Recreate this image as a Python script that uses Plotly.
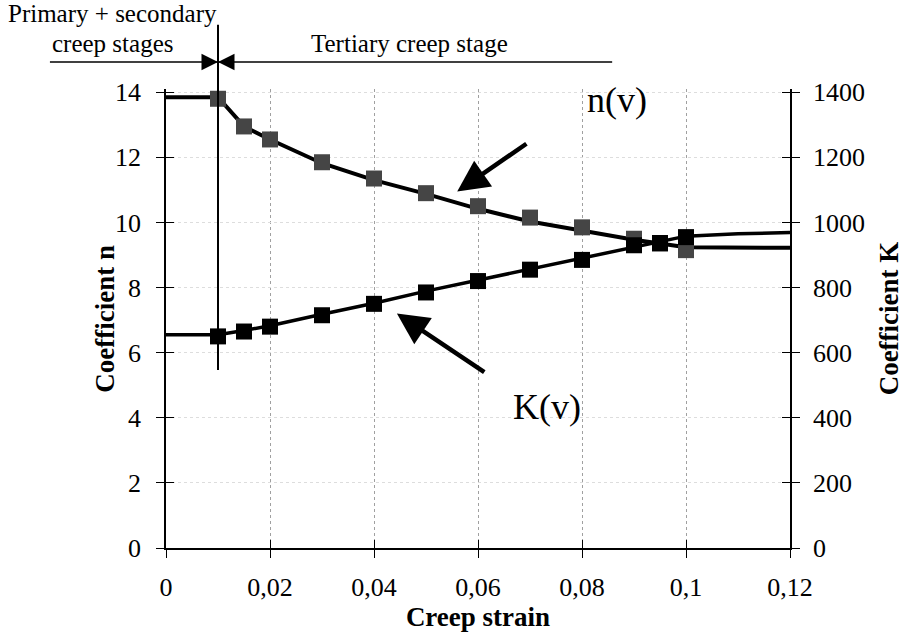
import plotly.graph_objects as go

# ---- data ----
strain_pts = [0.01, 0.015, 0.02, 0.03, 0.04, 0.05, 0.06, 0.07, 0.08, 0.09, 0.095, 0.1]
n_pts = [13.8, 12.95, 12.55, 11.85, 11.35, 10.9, 10.5, 10.15, 9.85, 9.5, 9.35, 9.15]
K_pts = [650, 665, 680, 715, 750, 785, 820, 855, 885, 930, 937, 955]

strain_fit = [0, 0.01, 0.015, 0.02, 0.03, 0.04, 0.05, 0.06, 0.07, 0.08, 0.09, 0.1, 0.11, 0.12]
n_fit = [13.85, 13.85, 12.95, 12.55, 11.82, 11.3, 10.88, 10.42, 10.03, 9.74, 9.47, 9.24, 9.22, 9.22]
K_fit = [655, 655, 668, 683, 718, 752, 789, 823, 857, 890, 925, 958, 965, 969]

x_ticks = [0, 0.02, 0.04, 0.06, 0.08, 0.1, 0.12]
x_ticktext = ["0", "0,02", "0,04", "0,06", "0,08", "0,1", "0,12"]
n_ticks = [0, 2, 4, 6, 8, 10, 12, 14]
K_ticks = [0, 200, 400, 600, 800, 1000, 1200, 1400]

stage_boundary = 0.01
x_range = [0, 0.12]
n_range = [0, 14.1]
K_range = [0, 1410]

FONT = "Liberation Serif"

fig = go.Figure()
fig.add_trace(go.Scatter(x=strain_fit, y=n_fit, mode="lines",
                         line=dict(color="black", width=4), showlegend=False, hoverinfo="skip"))
fig.add_trace(go.Scatter(x=strain_fit, y=K_fit, mode="lines", yaxis="y2",
                         line=dict(color="black", width=3.5), showlegend=False, hoverinfo="skip"))
fig.add_trace(go.Scatter(x=strain_pts, y=n_pts, mode="markers",
                         marker=dict(symbol="square", size=16, color="#454545"), showlegend=False))
fig.add_trace(go.Scatter(x=strain_pts, y=K_pts, mode="markers", yaxis="y2",
                         marker=dict(symbol="square", size=16, color="black"), showlegend=False))
# empty traces that carry the overlay axes used for crossing tick marks
fig.add_trace(go.Scatter(x=[], y=[], xaxis="x2", yaxis="y", showlegend=False, hoverinfo="skip"))
fig.add_trace(go.Scatter(x=[], y=[], xaxis="x", yaxis="y3", showlegend=False, hoverinfo="skip"))
fig.add_trace(go.Scatter(x=[], y=[], xaxis="x", yaxis="y4", showlegend=False, hoverinfo="skip"))

tickfont = dict(family=FONT, size=26, color="black")
titlefont = dict(family=FONT, size=27, color="black", weight="bold")

fig.update_layout(
    width=904, height=641,
    margin=dict(l=166, r=114, t=89, b=93),
    paper_bgcolor="white", plot_bgcolor="white",
    font=dict(family=FONT, color="black"),
    xaxis=dict(range=x_range, tickvals=x_ticks, ticktext=x_ticktext, tickfont=tickfont,
               showline=True, linecolor="black", linewidth=1.5,
               ticks="outside", ticklen=8, tickcolor="black", tickwidth=1.2,
               ticklabelstandoff=7,
               showgrid=True, gridcolor="#a0a0a0", griddash="dot", gridwidth=1,
               zeroline=False, automargin=False,
               title=dict(text="Creep strain", font=titlefont, standoff=6)),
    xaxis2=dict(overlaying="x", anchor="y", range=x_range, tickvals=x_ticks,
                ticks="inside", ticklen=8, tickcolor="black", tickwidth=1.2,
                showticklabels=False, showline=False, showgrid=False, zeroline=False),
    yaxis=dict(range=n_range, tickvals=n_ticks, tickfont=tickfont,
               showline=True, linecolor="black", linewidth=1.5,
               ticks="outside", ticklen=8, tickcolor="black", tickwidth=1.2,
               ticklabelstandoff=10,
               showgrid=True, gridcolor="#dddddd", griddash="dot", gridwidth=1,
               zeroline=False, automargin=False),
    yaxis2=dict(overlaying="y", side="right", anchor="x", range=K_range, tickvals=K_ticks,
                tickfont=tickfont, showline=True, linecolor="black", linewidth=1.5,
                ticks="outside", ticklen=8, tickcolor="black", tickwidth=1.2,
                ticklabelstandoff=8,
                showgrid=False, zeroline=False, automargin=False,
                title=dict(text="Coefficient K", font=titlefont, standoff=16)),
    yaxis3=dict(overlaying="y", side="left", anchor="x", range=n_range, tickvals=n_ticks,
                ticks="inside", ticklen=8, tickcolor="black", tickwidth=1.2,
                showticklabels=False, showline=False, showgrid=False, zeroline=False),
    yaxis4=dict(overlaying="y", side="right", anchor="x", range=K_range, tickvals=K_ticks,
                ticks="inside", ticklen=8, tickcolor="black", tickwidth=1.2,
                showticklabels=False, showline=False, showgrid=False, zeroline=False),
)

# left axis title as rotated text
fig.add_annotation(xref="paper", yref="paper", x=-0.099, y=0.5, text="Coefficient n",
                   textangle=-90, xanchor="center", yanchor="middle", showarrow=False,
                   font=titlefont)

# stage boundary and stage markers
fig.add_shape(type="line", xref="x", yref="paper", x0=stage_boundary, x1=stage_boundary,
              y0=0.388, y1=1.14, line=dict(color="black", width=2))
fig.add_shape(type="line", xref="paper", yref="paper", x0=-0.186, x1=0.715,
              y0=1.059, y1=1.059, line=dict(color="black", width=1.5))
for dx in (-14, 14):
    fig.add_annotation(xref="x", yref="paper", x=stage_boundary, y=1.059, text="",
                       showarrow=True, ax=dx, ay=0, arrowhead=2, arrowsize=2.2,
                       arrowwidth=1.5, arrowcolor="black", standoff=0)

txt = dict(family=FONT, size=25, color="black")
for label, px, py in [("Primary + secondary", -0.0865, 1.165),
                      ("creep stages", -0.085, 1.10),
                      ("Tertiary creep stage", 0.39, 1.10)]:
    fig.add_annotation(xref="paper", yref="paper", x=px, y=py, text=label,
                       xanchor="center", yanchor="middle", showarrow=False, font=txt)

big = dict(family=FONT, size=36, color="black")
fig.add_annotation(xref="x", yref="y", x=0.0867, y=13.76, text="n(v)", showarrow=False,
                   xanchor="center", yanchor="middle", font=big)
fig.add_annotation(xref="x", yref="y", x=0.0733, y=4.33, text="K(v)", showarrow=False,
                   xanchor="center", yanchor="middle", font=big)

# pointer arrows
fig.add_annotation(xref="x", yref="y", axref="x", ayref="y", x=0.056, y=10.95,
                   ax=0.0696, ay=12.45, text="", showarrow=True, arrowhead=2,
                   arrowsize=1.4, arrowwidth=4.5, arrowcolor="black", standoff=0)
fig.add_annotation(xref="x", yref="y", axref="x", ayref="y", x=0.0444, y=7.2,
                   ax=0.0615, ay=5.37, text="", showarrow=True, arrowhead=2,
                   arrowsize=1.4, arrowwidth=4.5, arrowcolor="black", standoff=0)

fig.write_html("out.html")
